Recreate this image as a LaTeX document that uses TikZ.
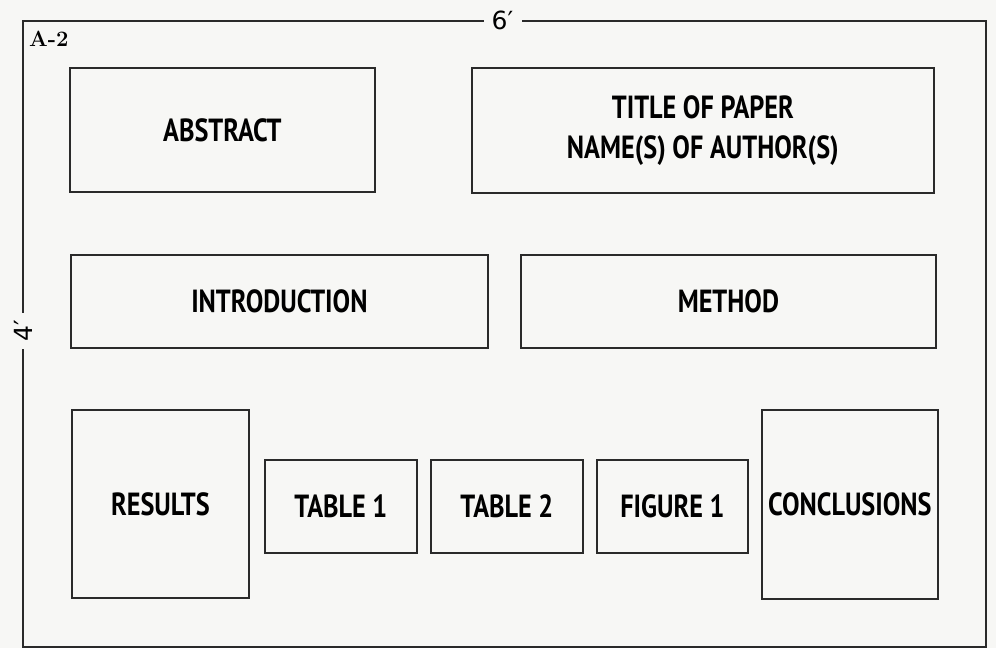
\documentclass[tikz,border=0pt]{standalone}
\usepackage{fontspec}
\newfontfamily\boxfont[FakeStretch=0.82]{PT Sans}
\newfontfamily\dimfont{DejaVu Sans}
\definecolor{paper}{HTML}{F7F7F5}
\definecolor{ink}{HTML}{2A2A2A}
\tikzset{
  panel/.style={draw=ink, line width=1.8pt, anchor=north west, inner sep=0pt,
    font=\boxfont\bfseries\fontsize{32}{40}\selectfont, align=center, text=black},
  dimlabel/.style={fill=paper, inner sep=2pt, font=\dimfont\fontsize{25}{27}\selectfont, text=black},
}
\begin{document}
\begin{tikzpicture}[x=1pt,y=-1pt]
\fill[paper] (0,0) rectangle (996,648);
\useasboundingbox (0,0) rectangle (996,648);
% outer poster frame
\node[draw=ink, line width=1.8pt, anchor=north west, minimum width=963pt, minimum height=626pt, inner sep=0pt] (frame) at (22,20) {};
\node[dimlabel, minimum width=38pt] (w) at (502.5,20) {6′};
\node[dimlabel, rotate=90, minimum width=36pt] (h) at (23,331) {4′};
\node[anchor=north west, inner sep=0pt, font=\bfseries\fontsize{22}{24}\selectfont] (tag) at (29,31) {A-2};
% panels
\node[panel, minimum width=305pt, minimum height=124pt] (abstract) at (69,67) {ABSTRACT};
\node[panel, minimum width=462pt, minimum height=125pt] (title) at (471,67) {TITLE OF PAPER\\NAME(S) OF AUTHOR(S)};
\node[panel, minimum width=417pt, minimum height=93pt] (intro) at (70,254) {INTRODUCTION};
\node[panel, minimum width=415pt, minimum height=93pt] (method) at (520,254) {METHOD};
\node[panel, minimum width=177pt, minimum height=188pt] (results) at (71,409) {RESULTS};
\node[panel, minimum width=152pt, minimum height=93pt] (table1) at (264,459) {TABLE 1};
\node[panel, minimum width=152pt, minimum height=93pt] (table2) at (430,459) {TABLE 2};
\node[panel, minimum width=151pt, minimum height=93pt] (figure1) at (596,459) {FIGURE 1};
\node[panel, minimum width=176pt, minimum height=189pt] (concl) at (761,409) {CONCLUSIONS};
\end{tikzpicture}
\end{document}
